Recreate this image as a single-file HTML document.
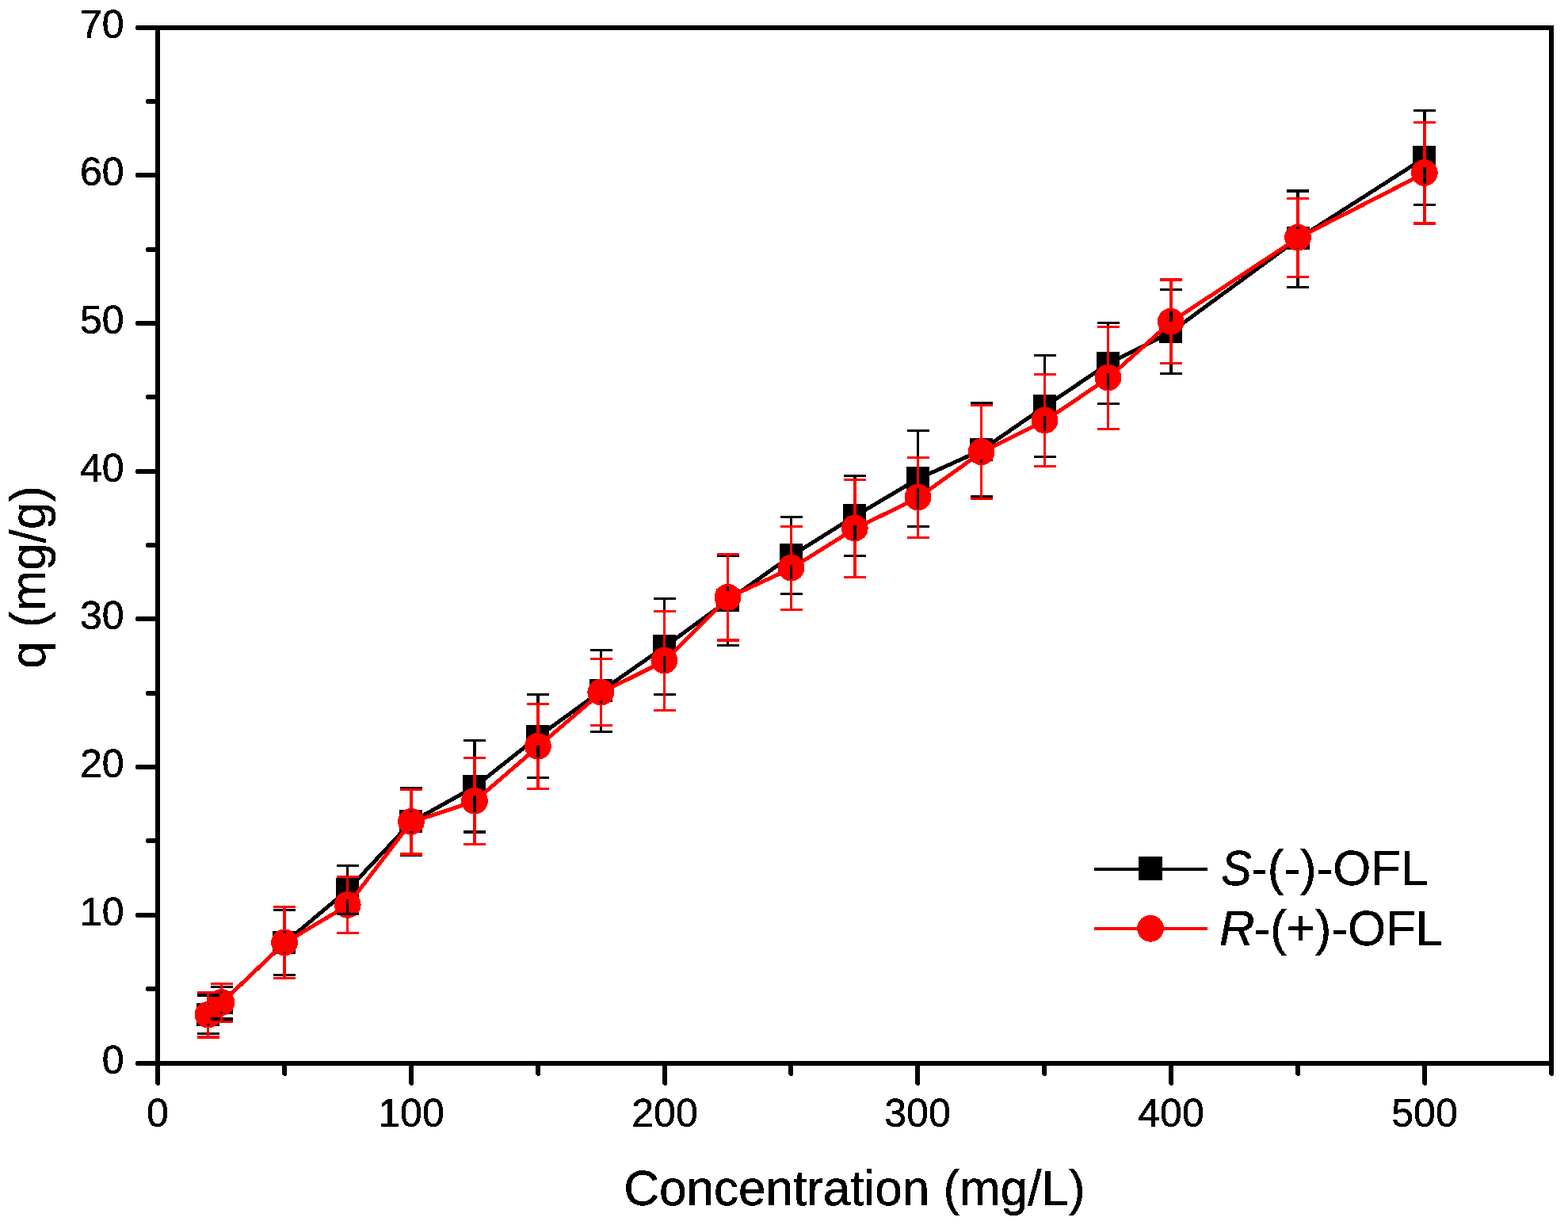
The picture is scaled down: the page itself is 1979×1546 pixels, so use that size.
<!DOCTYPE html>
<html lang="en"><head><meta charset="utf-8"><title>Adsorption isotherm: q (mg/g) vs Concentration (mg/L)</title>
<style>html,body{margin:0;padding:0;background:#fff}body{width:1979px;height:1546px;overflow:hidden}svg{display:block}text{font-family:"Liberation Sans",sans-serif;fill:#000;stroke:#000;stroke-width:0.5px}.tk{font-size:50px}.tt{font-size:62px}.lg{font-size:61.8px}.it{font-style:italic}</style></head><body>
<svg width="1979" height="1546" viewBox="0 0 1979 1546" shape-rendering="crispEdges">
<defs><filter id="hard" x="-5%" y="-5%" width="110%" height="110%" filterUnits="objectBoundingBox" color-interpolation-filters="sRGB"><feComponentTransfer><feFuncA type="discrete" tableValues="0 1"/></feComponentTransfer></filter></defs>
<rect x="0" y="0" width="1979" height="1546" fill="#ffffff"/>
<g id="series-s">
<polyline fill="none" stroke="#000" stroke-width="5.0" stroke-linejoin="round" points="262.5,1281 279.4,1265.9 359,1190.2 438.7,1123.4 519,1037.5 598.9,993.1 678.9,929.8 758.3,872.4 838.4,816.5 918.5,758.2 998.6,701.5 1078.8,651.5 1158.5,604.3 1238.6,568.2 1318.5,513.2 1398.5,459.2 1477.8,419 1638,301.6 1797.8,199.4"/>
<rect x="248" y="1266" width="29" height="29" fill="#000"/>
<rect x="265" y="1251" width="29" height="29" fill="#000"/>
<rect x="344" y="1175" width="29" height="29" fill="#000"/>
<rect x="424" y="1108" width="29" height="29" fill="#000"/>
<rect x="504" y="1022" width="29" height="29" fill="#000"/>
<rect x="584" y="978" width="29" height="29" fill="#000"/>
<rect x="664" y="915" width="29" height="29" fill="#000"/>
<rect x="744" y="857" width="29" height="29" fill="#000"/>
<rect x="824" y="801" width="29" height="29" fill="#000"/>
<rect x="904" y="743" width="29" height="29" fill="#000"/>
<rect x="984" y="686" width="29" height="29" fill="#000"/>
<rect x="1064" y="636" width="29" height="29" fill="#000"/>
<rect x="1144" y="589" width="29" height="29" fill="#000"/>
<rect x="1224" y="553" width="29" height="29" fill="#000"/>
<rect x="1304" y="498" width="29" height="29" fill="#000"/>
<rect x="1384" y="444" width="29" height="29" fill="#000"/>
<rect x="1463" y="404" width="29" height="29" fill="#000"/>
<rect x="1624" y="286" width="29" height="29" fill="#000"/>
<rect x="1783" y="184" width="29" height="29" fill="#000"/>
</g>
<g id="series-r">
<polyline fill="none" stroke="#f00" stroke-width="5.0" stroke-linejoin="round" points="262.5,1281.4 279.4,1265.8 359,1190.1 438.7,1142.6 519,1037.6 598.9,1011.4 678.9,942.4 758.3,874.3 838.4,834.3 918.5,754.5 998.6,717.3 1078.8,667.2 1158.5,628.3 1238.6,570.9 1318.5,531.1 1398.5,477.3 1477.8,406.4 1638,300.4 1797.8,218.7"/>
<circle cx="262.5" cy="1280.7" r="16.9" fill="#f00"/>
<circle cx="279.4" cy="1265.1" r="16.9" fill="#f00"/>
<circle cx="359" cy="1189.4" r="16.9" fill="#f00"/>
<circle cx="438.7" cy="1141.9" r="16.9" fill="#f00"/>
<circle cx="519" cy="1036.9" r="16.9" fill="#f00"/>
<circle cx="598.9" cy="1010.7" r="16.9" fill="#f00"/>
<circle cx="678.9" cy="941.7" r="16.9" fill="#f00"/>
<circle cx="758.3" cy="873.6" r="16.9" fill="#f00"/>
<circle cx="838.4" cy="833.6" r="16.9" fill="#f00"/>
<circle cx="918.5" cy="753.8" r="16.9" fill="#f00"/>
<circle cx="998.6" cy="716.6" r="16.9" fill="#f00"/>
<circle cx="1078.8" cy="666.5" r="16.9" fill="#f00"/>
<circle cx="1158.5" cy="627.6" r="16.9" fill="#f00"/>
<circle cx="1238.6" cy="570.2" r="16.9" fill="#f00"/>
<circle cx="1318.5" cy="530.4" r="16.9" fill="#f00"/>
<circle cx="1398.5" cy="476.6" r="16.9" fill="#f00"/>
<circle cx="1477.8" cy="405.7" r="16.9" fill="#f00"/>
<circle cx="1638" cy="299.7" r="16.9" fill="#f00"/>
<circle cx="1797.8" cy="218" r="16.9" fill="#f00"/>
</g>
<path id="err-s" fill="none" stroke="#000" stroke-width="3.4" d="M249 1256.1H277M249 1304.6H277M262.5 1256.1V1268.3M262.5 1292.3V1304.6M266 1245.2H294M266 1285.9H294M279.4 1245.2V1253.2M279.4 1277.2V1285.9M345 1148.5H373M345 1230.6H373M359 1148.5V1177.5M359 1201.5V1230.6M425 1092.4H453M425 1153.3H453M438.7 1092.4V1110.7M438.7 1134.7V1153.3M505 994.5H533M505 1079.4H533M519 994.5V1024.8M519 1048.8V1079.4M585 934.4H613M585 1049.8H613M598.9 934.4V980.4M598.9 1004.4V1049.8M665 876.5H693M665 981.6H693M678.9 876.5V917.1M678.9 941.1V981.6M745 820.4H773M745 923.5H773M758.3 820.4V859.7M758.3 883.7V923.5M825 755.4H853M825 876.4H853M838.4 755.4V803.8M838.4 827.8V876.4M905 701.7H933M905 814.3H933M918.5 701.7V745.5M918.5 769.5V814.3M985 652.5H1013M985 749.3H1013M998.6 652.5V688.8M998.6 712.8V749.3M1065 600.5H1093M1065 701.4H1093M1078.8 600.5V638.8M1078.8 662.8V701.4M1145 543.3H1173M1145 664.3H1173M1158.5 543.3V591.6M1158.5 615.6V664.3M1225 508.6H1253M1225 626.5H1253M1238.6 508.6V555.5M1238.6 579.5V626.5M1305 448.5H1333M1305 576.4H1333M1318.5 448.5V500.5M1318.5 524.5V576.4M1385 407.5H1413M1385 509.6H1413M1398.5 407.5V446.5M1398.5 470.5V509.6M1464 365.4H1492M1464 471.5H1492M1477.8 365.4V406.3M1477.8 430.3V471.5M1624 241H1652M1624 362.2H1652M1638 241V288.9M1638 312.9V362.2M1784 139.4H1812M1784 258.3H1812M1797.8 139.4V186.7M1797.8 210.7V258.3"/>
<path id="err-r" fill="none" stroke="#f00" stroke-width="3.4" d="M249 1252.6H277M249 1309.1H277M262.5 1252.6V1266.7M262.5 1294.7V1309.1M266 1241.6H294M266 1289.4H294M279.4 1241.6V1251.1M279.4 1279.1V1289.4M345 1144.5H373M345 1234.2H373M359 1144.5V1175.4M359 1203.4V1234.2M425 1106.6H453M425 1177.6H453M438.7 1106.6V1127.9M438.7 1155.9V1177.6M505 996.5H533M505 1077.8H533M519 996.5V1022.9M519 1050.9V1077.8M585 956.5H613M585 1065.4H613M598.9 956.5V996.7M598.9 1024.7V1065.4M665 888.4H693M665 995.4H693M678.9 888.4V927.7M678.9 955.7V995.4M745 831.5H773M745 915.5H773M758.3 831.5V859.6M758.3 887.6V915.5M825 771.3H853M825 896.4H853M838.4 771.3V819.6M838.4 847.6V896.4M905 699.4H933M905 808.1H933M918.5 699.4V739.8M918.5 767.8V808.1M985 664.3H1013M985 769.4H1013M998.6 664.3V702.6M998.6 730.6V769.4M1065 605.5H1093M1065 728.3H1093M1078.8 605.5V652.5M1078.8 680.5V728.3M1145 577.2H1173M1145 678.4H1173M1158.5 577.2V613.6M1158.5 641.6V678.4M1225 511.3H1253M1225 629.5H1253M1238.6 511.3V556.2M1238.6 584.2V629.5M1305 472.5H1333M1305 588.4H1333M1318.5 472.5V516.4M1318.5 544.4V588.4M1385 412.3H1413M1385 541.3H1413M1398.5 412.3V462.6M1398.5 490.6V541.3M1464 353H1492M1464 458.3H1492M1477.8 353V391.7M1477.8 419.7V458.3M1624 250.5H1652M1624 349.5H1652M1638 250.5V285.7M1638 313.7V349.5M1784 154.4H1812M1784 281.9H1812M1797.8 154.4V204M1797.8 232V281.9"/>
<g id="axes" fill="#000">
<rect x="196" y="32" width="1765" height="6"/>
<rect x="196" y="1339" width="1765" height="6"/>
<rect x="196" y="32" width="6" height="1313"/>
<rect x="1955" y="32" width="6" height="1313"/>
<path id="ticks" d="M199 1345H172.7L171 1343.5V1340.5L172.7 1339H199zM199 1251H185.7L184 1249.5V1246.5L185.7 1245H199zM199 1158H172.7L171 1156.5V1153.5L172.7 1152H199zM199 1064H185.7L184 1062.5V1059.5L185.7 1058H199zM199 971H172.7L171 969.5V966.5L172.7 965H199zM199 878H185.7L184 876.5V873.5L185.7 872H199zM199 784H172.7L171 782.5V779.5L172.7 778H199zM199 691H185.7L184 689.5V686.5L185.7 685H199zM199 598H172.7L171 596.5V593.5L172.7 592H199zM199 504H185.7L184 502.5V499.5L185.7 498H199zM199 411H172.7L171 409.5V406.5L172.7 405H199zM199 318H185.7L184 316.5V313.5L185.7 312H199zM199 224H172.7L171 222.5V219.5L172.7 218H199zM199 131H185.7L184 129.5V126.5L185.7 125H199zM199 38H172.7L171 36.5V33.5L172.7 32H199zM196 1342V1368L198 1370H200L202 1368V1342zM356 1342V1356L358 1358H360L362 1356V1342zM516 1342V1368L518 1370H520L522 1368V1342zM676 1342V1356L678 1358H680L682 1356V1342zM836 1342V1368L838 1370H840L842 1368V1342zM995 1342V1356L997 1358H999L1001 1356V1342zM1155 1342V1368L1157 1370H1159L1161 1368V1342zM1315 1342V1356L1317 1358H1319L1321 1356V1342zM1475 1342V1368L1477 1370H1479L1481 1368V1342zM1635 1342V1356L1637 1358H1639L1641 1356V1342zM1795 1342V1368L1797 1370H1799L1801 1368V1342zM1955 1342V1356L1957 1358H1959L1961 1356V1342z"/>
</g>
<g id="ylabels">
<text class="tk" text-anchor="end" transform="translate(156.5 1354.6) scale(1 1.012)" filter="url(#hard)">0</text>
<text class="tk" text-anchor="end" transform="translate(156.5 1167.6) scale(1 1.012)" filter="url(#hard)">10</text>
<text class="tk" text-anchor="end" transform="translate(156.5 980.6) scale(1 1.012)" filter="url(#hard)">20</text>
<text class="tk" text-anchor="end" transform="translate(156.5 793.6) scale(1 1.012)" filter="url(#hard)">30</text>
<text class="tk" text-anchor="end" transform="translate(156.5 607.6) scale(1 1.012)" filter="url(#hard)">40</text>
<text class="tk" text-anchor="end" transform="translate(156.5 420.6) scale(1 1.012)" filter="url(#hard)">50</text>
<text class="tk" text-anchor="end" transform="translate(156.5 233.6) scale(1 1.012)" filter="url(#hard)">60</text>
<text class="tk" text-anchor="end" transform="translate(156.5 47.6) scale(1 1.012)" filter="url(#hard)">70</text>
</g>
<g id="xlabels">
<text class="tk" text-anchor="middle" transform="translate(199 1422.3) scale(1 1.012)" filter="url(#hard)">0</text>
<text class="tk" text-anchor="middle" transform="translate(519 1422.3) scale(1 1.012)" filter="url(#hard)">100</text>
<text class="tk" text-anchor="middle" transform="translate(839 1422.3) scale(1 1.012)" filter="url(#hard)">200</text>
<text class="tk" text-anchor="middle" transform="translate(1158 1422.3) scale(1 1.012)" filter="url(#hard)">300</text>
<text class="tk" text-anchor="middle" transform="translate(1478 1422.3) scale(1 1.012)" filter="url(#hard)">400</text>
<text class="tk" text-anchor="middle" transform="translate(1798 1422.3) scale(1 1.012)" filter="url(#hard)">500</text>
</g>
<text class="tt" text-anchor="middle" transform="translate(1078.4 1520.8) scale(1 1.02)" filter="url(#hard)">Concentration (mg/L)</text>
<text class="tt" text-anchor="middle" transform="translate(57 728.4) rotate(-90) scale(1 1.02)" filter="url(#hard)">q (mg/g)</text>
<g id="legend">
<rect x="1381" y="1095" width="143" height="4" fill="#000"/>
<rect x="1437" y="1081" width="30" height="30" fill="#000"/>
<rect x="1381" y="1170" width="143" height="4" fill="#f00"/>
<circle cx="1452" cy="1171.8" r="16.9" fill="#f00"/>
<text class="lg" transform="translate(1541.3 1117) scale(1 1.03)" filter="url(#hard)"><tspan class="it" textLength="38.4" lengthAdjust="spacingAndGlyphs">S</tspan><tspan x="38.0">-(-)-OFL</tspan></text>
<text class="lg" transform="translate(1539 1193.3) scale(1 1.03)" filter="url(#hard)"><tspan class="it">R</tspan><tspan x="43.6">-(+)-OFL</tspan></text>
</g>
</svg></body></html>
